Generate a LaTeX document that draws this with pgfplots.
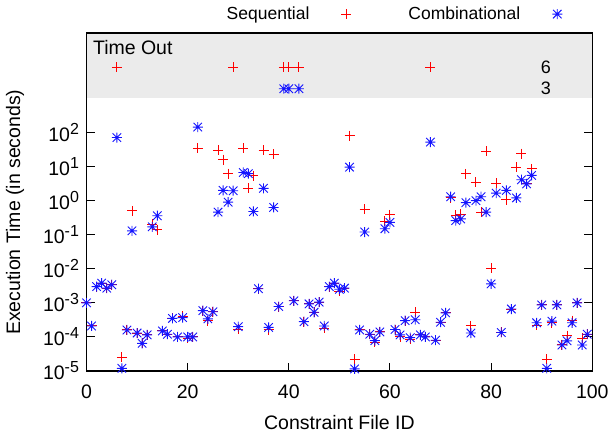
\documentclass[border=0pt]{standalone}
\usepackage{pgfplots}
\pgfplotsset{compat=1.18}
\usepackage{fontspec}
\setmainfont{Liberation Sans}

\definecolor{band}{RGB}{235,235,235}
\definecolor{seqred}{RGB}{255,0,0}
\definecolor{combblue}{RGB}{20,20,255}

\newcommand{\sci}[1]{10\raisebox{0.36em}{\fontsize{16}{16}\selectfont #1}}

% gnuplot style "*" : a + and an x on top of each other
\pgfdeclareplotmark{gpstar}{%
  \pgfpathmoveto{\pgfqpoint{-\pgfplotmarksize}{0pt}}%
  \pgfpathlineto{\pgfqpoint{\pgfplotmarksize}{0pt}}%
  \pgfpathmoveto{\pgfqpoint{0pt}{-\pgfplotmarksize}}%
  \pgfpathlineto{\pgfqpoint{0pt}{\pgfplotmarksize}}%
  \pgfpathmoveto{\pgfqpoint{-0.85\pgfplotmarksize}{-0.85\pgfplotmarksize}}%
  \pgfpathlineto{\pgfqpoint{0.85\pgfplotmarksize}{0.85\pgfplotmarksize}}%
  \pgfpathmoveto{\pgfqpoint{-0.85\pgfplotmarksize}{0.85\pgfplotmarksize}}%
  \pgfpathlineto{\pgfqpoint{0.85\pgfplotmarksize}{-0.85\pgfplotmarksize}}%
  \pgfusepathqstroke}

% time outs are plotted at 8100 (sequential) and 1920 (combinational)
\pgfplotstableread{
id t
0 1e-3
1 2.1e-4
2 3.0e-3
3 3.8e-3
4 2.7e-3
5 3.4e-3
6 8100
7 2.5e-5
8 1.6e-4
9 0.5
10 1.3e-4
11 6.5e-5
12 1.15e-4
13 0.2
14 0.14
15 1.5e-4
16 1.2e-4
17 3.5e-4
18 1.0e-4
19 4.0e-4
20 9.0e-5
21 1.0e-4
22 35
23 5.9e-4
24 3.0e-4
25 5.5e-4
26 30
27 16
28 6.2
29 8100
30 1.7e-4
31 35
32 2.3
33 5.4
34 2.6e-3
35 30
36 1.6e-4
37 23
38 7.8e-4
39 8100
40 8100
41 1.15e-3
42 8100
43 2.8e-4
44 9.3e-4
45 5.3e-4
46 1.05e-3
47 1.8e-4
48 3.0e-3
49 3.8e-3
50 2.2e-3
51 2.7e-3
52 81
53 2.2e-5
54 1.6e-4
55 0.56
56 1.2e-4
57 7.0e-5
58 1.4e-4
59 0.25
60 0.38
61 1.65e-4
62 1.0e-4
63 3.0e-4
64 8.5e-5
65 5.3e-4
66 1.15e-4
67 1.0e-4
68 8100
69 8e-5
70 2.7e-4
71 5.1e-4
72 1.2
73 0.37
74 0.4
75 6.1
76 2.1e-4
77 3.5
78 0.46
79 28
80 0.0104
81 3.2
82 1.35e-4
83 1.05
84 6.6e-4
85 9.6
86 24
87 3.1
88 8.5
89 2.2e-4
90 8.7e-4
91 2.2e-5
92 2.6e-4
93 8.7e-4
94 5.8e-5
95 1.1e-4
96 3.0e-4
97 1.0e-3
98 9.0e-5
99 1.2e-4
}\seqtable

\pgfplotstableread{
id t
0 1e-3
1 2.1e-4
2 3.0e-3
3 3.8e-3
4 2.7e-3
5 3.4e-3
6 71
7 1.2e-5
8 1.6e-4
9 0.13
10 1.3e-4
11 6.5e-5
12 1.15e-4
13 0.17
14 0.36
15 1.5e-4
16 1.2e-4
17 3.5e-4
18 1.0e-4
19 3.7e-4
20 1.0e-4
21 1.0e-4
22 144
23 5.9e-4
24 3.4e-4
25 5.5e-4
26 0.46
27 2.0
28 0.9
29 1.95
30 2.0e-4
31 6.7
32 6.2
33 0.48
34 2.6e-3
35 2.3
36 1.9e-4
37 0.63
38 7.8e-4
39 1920
40 1920
41 1.15e-3
42 1920
43 2.8e-4
44 9.3e-4
45 5.3e-4
46 1.05e-3
47 2.1e-4
48 3.0e-3
49 3.8e-3
50 2.5e-3
51 2.7e-3
52 9.6
53 1.15e-5
54 1.6e-4
55 0.12
56 1.2e-4
57 7.8e-5
58 1.4e-4
59 0.15
60 0.23
61 1.65e-4
62 1.15e-4
63 3.0e-4
64 9.5e-5
65 3.2e-4
66 1.15e-4
67 1.0e-4
68 52
69 8e-5
70 2.7e-4
71 5.1e-4
72 1.3
73 0.26
74 0.29
75 0.87
76 1.3e-4
77 1.0
78 1.3
79 0.46
80 3.6e-3
81 1.66
82 1.35e-4
83 2.0
84 6.6e-4
85 1.2
86 4.1
87 3.1
88 5.5
89 2.6e-4
90 8.7e-4
91 1.2e-5
92 2.9e-4
93 8.7e-4
94 5.8e-5
95 7.7e-5
96 2.6e-4
97 1.0e-3
98 5.8e-5
99 1.2e-4
}\combtable

\begin{document}
\begin{tikzpicture}
\path[use as bounding box] (-86.5pt,-66pt) rectangle (525.5pt,371pt);
\begin{axis}[
    scale only axis,
    width=505.8pt, height=338pt,
    ymode=log,
    xmin=0, xmax=100,
    ymin=1e-5, ymax=8.3e4,
    axis on top,
    font=\fontsize{18.5}{21}\selectfont,
    tick label style={font=\fontsize{19.5}{22}\selectfont},
    axis line style={line width=1.1pt},
    tick style={line width=1pt, black},
    tick align=inside,
    major tick length=8pt,
    xtick={0,20,40,60,80,100},
    xtick pos=left,
    ytick={1e-5,1e-4,1e-3,1e-2,1e-1,1,10,100},
    yticklabels={\sci{-5},\sci{-4},\sci{-3},\sci{-2},\sci{-1},\sci{0},\sci{1},\sci{2}},
    yminorticks=false,
    /pgf/number format/assume math mode=true,
    xticklabel style={yshift=-10pt},
    yticklabel style={xshift=-4pt},
    xlabel={Constraint File ID},
    ylabel={Execution Time (in seconds)},
    label style={font=\fontsize{19.5}{22}\selectfont},
    xlabel style={at={(axis description cs:0.5,-0.151)}, anchor=center},
    ylabel style={at={(axis description cs:-0.141,0.47)}, anchor=center},
    legend style={draw=none, fill=none, at={(rel axis cs:0.947,1.056)}, anchor=east,
        legend columns=2, font=\fontsize{17.5}{20}\selectfont,
        /tikz/every odd column/.append style={column sep=30pt},
        /tikz/every even column/.append style={column sep=55pt}},
    legend plot pos=right,
]
\addplot[draw=none, fill=band, forget plot] coordinates {(0,1000) (100,1000) (100,8.3e4) (0,8.3e4)} -- cycle;
\addplot[only marks, mark=+, mark size=5pt, seqred, line width=1pt] table[x=id, y=t] {\seqtable};
\addplot[only marks, mark=gpstar, mark size=5pt, combblue, line width=0.9pt] table[x=id, y=t] {\combtable};
\legend{Sequential, Combinational}
\node[anchor=west, font=\fontsize{19.5}{22}\selectfont] at (axis cs:0.6,3.2e4) {Time Out};
\node[font=\fontsize{18}{20}\selectfont] at (axis cs:90.8,8100) {6};
\node[font=\fontsize{18}{20}\selectfont] at (axis cs:90.8,1920) {3};
\end{axis}
\end{tikzpicture}
\end{document}
